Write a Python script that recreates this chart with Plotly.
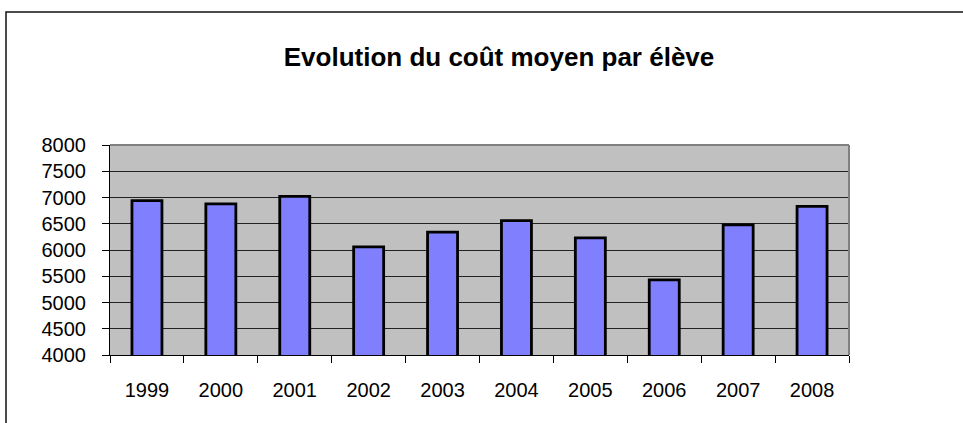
import plotly.graph_objects as go

# Average cost per pupil, by year
years = ["1999", "2000", "2001", "2002", "2003", "2004", "2005", "2006", "2007", "2008"]
cost = [6940, 6880, 7020, 6060, 6340, 6560, 6230, 5430, 6480, 6830]
y_ticks = [4000, 4500, 5000, 5500, 6000, 6500, 7000, 7500, 8000]

W, H = 963, 423
L, R, T, B = 110, 114, 145, 68
plot_w = W - L - R
plot_h = H - T - B

font = "Liberation Sans, Arial, sans-serif"

fig = go.Figure(
    go.Bar(
        x=years,
        y=cost,
        base=0,
        marker=dict(color="#8080FF", line=dict(color="#000000", width=2.8)),
        hoverinfo="x+y",
    )
)

# outer chart frame (top and left edges visible, the rest runs off the page)
fx0 = (6 - L) / plot_w
fy1 = (H - B - 12) / plot_h
fig.add_shape(type="rect", xref="paper", yref="paper",
              x0=fx0, x1=1.5, y0=-1.0, y1=fy1,
              line=dict(color="#111111", width=1.5), layer="below")

# plot area top/right border
fig.add_shape(type="line", xref="paper", yref="paper", x0=0, x1=1, y0=1, y1=1,
              line=dict(color="#808080", width=2), layer="above")
fig.add_shape(type="line", xref="paper", yref="paper", x0=1, x1=1, y0=0, y1=1,
              line=dict(color="#808080", width=2), layer="above")

fig.update_layout(
    width=W,
    height=H,
    margin=dict(l=L, r=R, t=T, b=B, pad=0),
    paper_bgcolor="#FFFFFF",
    plot_bgcolor="#C0C0C0",
    showlegend=False,
    bargap=0.594,
    font=dict(family=font, size=20, color="#000000"),
    title=dict(
        text="<b>Evolution du coût moyen par élève</b>",
        x=499 / W,
        xanchor="center",
        xref="container",
        y=1 - 57 / H,
        yanchor="middle",
        yref="container",
        font=dict(family=font, size=26, color="#000000"),
    ),
    xaxis=dict(
        type="category",
        tickson="boundaries",
        ticks="outside",
        ticklen=7,
        tickwidth=1,
        tickcolor="#000000",
        showline=True,
        linecolor="#000000",
        linewidth=1,
        showgrid=False,
        ticklabelstandoff=17,
        fixedrange=True,
    ),
    yaxis=dict(
        range=[4000, 8000],
        tickvals=y_ticks,
        ticks="outside",
        ticklen=7,
        tickwidth=1,
        tickcolor="#000000",
        showline=True,
        linecolor="#000000",
        linewidth=1,
        showgrid=True,
        gridcolor="#222222",
        gridwidth=1,
        zeroline=False,
        ticklabelstandoff=12,
        fixedrange=True,
    ),
)

fig.write_html("out.html")
